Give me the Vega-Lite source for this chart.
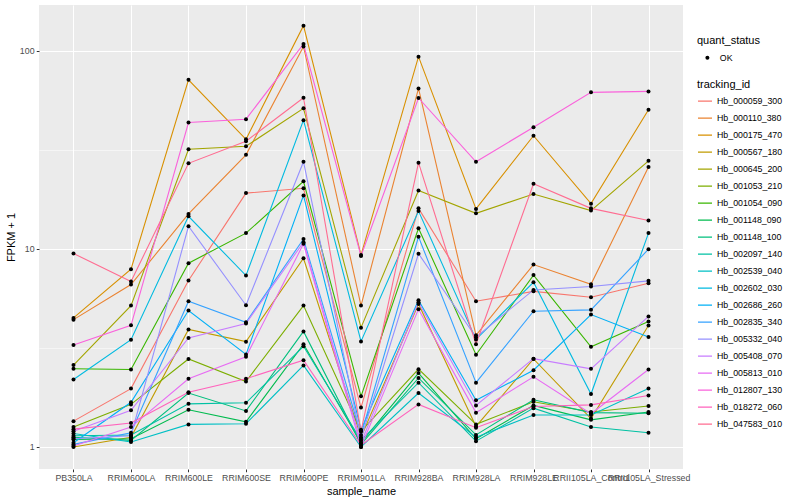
{
  "$schema": "https://vega.github.io/schema/vega-lite/v6.json",
  "width": 644,
  "height": 464,
  "autosize": {"type": "none"},
  "padding": {"left": 39, "top": 5, "right": 117, "bottom": 31},
  "background": "white",
  "config": {
    "font": "Liberation Sans",
    "view": {"fill": "#EBEBEB", "stroke": null},
    "axis": {
      "domain": false,
      "labelFont": "Liberation Sans",
      "labelFontSize": 8.8,
      "labelColor": "#4D4D4D",
      "labelPadding": 2.2,
      "tickColor": "#333333",
      "tickSize": 2.75,
      "tickWidth": 1,
      "titleFont": "Liberation Sans",
      "titleFontSize": 11,
      "titleFontWeight": "normal",
      "titleColor": "black",
      "gridColor": "white",
      "gridOpacity": 1
    },
    "legend": {
      "titleFont": "Liberation Sans",
      "titleFontSize": 11,
      "titleFontWeight": "normal",
      "titleColor": "black",
      "labelFont": "Liberation Sans",
      "labelFontSize": 8.8,
      "labelColor": "black",
      "padding": 0
    }
  },
  "data": {
    "values": [
      {"tracking_id":"Hb_000059_300","sample_name":"PB350LA","fpkm":1.35,"quant_status":"OK"},
      {"tracking_id":"Hb_000059_300","sample_name":"RRIM600LA","fpkm":1.97,"quant_status":"OK"},
      {"tracking_id":"Hb_000059_300","sample_name":"RRIM600LE","fpkm":6.92,"quant_status":"OK"},
      {"tracking_id":"Hb_000059_300","sample_name":"RRIM600SE","fpkm":19.1,"quant_status":"OK"},
      {"tracking_id":"Hb_000059_300","sample_name":"RRIM600PE","fpkm":20.2,"quant_status":"OK"},
      {"tracking_id":"Hb_000059_300","sample_name":"RRIM901LA","fpkm":1.58,"quant_status":"OK"},
      {"tracking_id":"Hb_000059_300","sample_name":"RRIM928BA","fpkm":16.0,"quant_status":"OK"},
      {"tracking_id":"Hb_000059_300","sample_name":"RRIM928LA","fpkm":5.44,"quant_status":"OK"},
      {"tracking_id":"Hb_000059_300","sample_name":"RRIM928LE","fpkm":6.1,"quant_status":"OK"},
      {"tracking_id":"Hb_000059_300","sample_name":"RRII105LA_Control","fpkm":5.7,"quant_status":"OK"},
      {"tracking_id":"Hb_000059_300","sample_name":"RRII105LA_Stressed","fpkm":6.7,"quant_status":"OK"},

      {"tracking_id":"Hb_000110_380","sample_name":"PB350LA","fpkm":4.39,"quant_status":"OK"},
      {"tracking_id":"Hb_000110_380","sample_name":"RRIM600LA","fpkm":6.6,"quant_status":"OK"},
      {"tracking_id":"Hb_000110_380","sample_name":"RRIM600LE","fpkm":15.0,"quant_status":"OK"},
      {"tracking_id":"Hb_000110_380","sample_name":"RRIM600SE","fpkm":29.8,"quant_status":"OK"},
      {"tracking_id":"Hb_000110_380","sample_name":"RRIM600PE","fpkm":105,"quant_status":"OK"},
      {"tracking_id":"Hb_000110_380","sample_name":"RRIM901LA","fpkm":5.17,"quant_status":"OK"},
      {"tracking_id":"Hb_000110_380","sample_name":"RRIM928BA","fpkm":64.5,"quant_status":"OK"},
      {"tracking_id":"Hb_000110_380","sample_name":"RRIM928LA","fpkm":3.66,"quant_status":"OK"},
      {"tracking_id":"Hb_000110_380","sample_name":"RRIM928LE","fpkm":8.33,"quant_status":"OK"},
      {"tracking_id":"Hb_000110_380","sample_name":"RRII105LA_Control","fpkm":6.62,"quant_status":"OK"},
      {"tracking_id":"Hb_000110_380","sample_name":"RRII105LA_Stressed","fpkm":25.9,"quant_status":"OK"},

      {"tracking_id":"Hb_000175_470","sample_name":"PB350LA","fpkm":4.48,"quant_status":"OK"},
      {"tracking_id":"Hb_000175_470","sample_name":"RRIM600LA","fpkm":7.89,"quant_status":"OK"},
      {"tracking_id":"Hb_000175_470","sample_name":"RRIM600LE","fpkm":71.3,"quant_status":"OK"},
      {"tracking_id":"Hb_000175_470","sample_name":"RRIM600SE","fpkm":35.7,"quant_status":"OK"},
      {"tracking_id":"Hb_000175_470","sample_name":"RRIM600PE","fpkm":133.7,"quant_status":"OK"},
      {"tracking_id":"Hb_000175_470","sample_name":"RRIM901LA","fpkm":9.3,"quant_status":"OK"},
      {"tracking_id":"Hb_000175_470","sample_name":"RRIM928BA","fpkm":93.3,"quant_status":"OK"},
      {"tracking_id":"Hb_000175_470","sample_name":"RRIM928LA","fpkm":15.9,"quant_status":"OK"},
      {"tracking_id":"Hb_000175_470","sample_name":"RRIM928LE","fpkm":37.2,"quant_status":"OK"},
      {"tracking_id":"Hb_000175_470","sample_name":"RRII105LA_Control","fpkm":16.9,"quant_status":"OK"},
      {"tracking_id":"Hb_000175_470","sample_name":"RRII105LA_Stressed","fpkm":50.3,"quant_status":"OK"},

      {"tracking_id":"Hb_000567_180","sample_name":"PB350LA","fpkm":1.0,"quant_status":"OK"},
      {"tracking_id":"Hb_000567_180","sample_name":"RRIM600LA","fpkm":1.12,"quant_status":"OK"},
      {"tracking_id":"Hb_000567_180","sample_name":"RRIM600LE","fpkm":3.92,"quant_status":"OK"},
      {"tracking_id":"Hb_000567_180","sample_name":"RRIM600SE","fpkm":3.4,"quant_status":"OK"},
      {"tracking_id":"Hb_000567_180","sample_name":"RRIM600PE","fpkm":8.96,"quant_status":"OK"},
      {"tracking_id":"Hb_000567_180","sample_name":"RRIM901LA","fpkm":1.12,"quant_status":"OK"},
      {"tracking_id":"Hb_000567_180","sample_name":"RRIM928BA","fpkm":5.27,"quant_status":"OK"},
      {"tracking_id":"Hb_000567_180","sample_name":"RRIM928LA","fpkm":1.27,"quant_status":"OK"},
      {"tracking_id":"Hb_000567_180","sample_name":"RRIM928LE","fpkm":2.78,"quant_status":"OK"},
      {"tracking_id":"Hb_000567_180","sample_name":"RRII105LA_Control","fpkm":1.39,"quant_status":"OK"},
      {"tracking_id":"Hb_000567_180","sample_name":"RRII105LA_Stressed","fpkm":4.1,"quant_status":"OK"},

      {"tracking_id":"Hb_000645_200","sample_name":"PB350LA","fpkm":2.59,"quant_status":"OK"},
      {"tracking_id":"Hb_000645_200","sample_name":"RRIM600LA","fpkm":5.17,"quant_status":"OK"},
      {"tracking_id":"Hb_000645_200","sample_name":"RRIM600LE","fpkm":31.8,"quant_status":"OK"},
      {"tracking_id":"Hb_000645_200","sample_name":"RRIM600SE","fpkm":32.9,"quant_status":"OK"},
      {"tracking_id":"Hb_000645_200","sample_name":"RRIM600PE","fpkm":51.2,"quant_status":"OK"},
      {"tracking_id":"Hb_000645_200","sample_name":"RRIM901LA","fpkm":4.0,"quant_status":"OK"},
      {"tracking_id":"Hb_000645_200","sample_name":"RRIM928BA","fpkm":19.7,"quant_status":"OK"},
      {"tracking_id":"Hb_000645_200","sample_name":"RRIM928LA","fpkm":15.1,"quant_status":"OK"},
      {"tracking_id":"Hb_000645_200","sample_name":"RRIM928LE","fpkm":18.9,"quant_status":"OK"},
      {"tracking_id":"Hb_000645_200","sample_name":"RRII105LA_Control","fpkm":15.6,"quant_status":"OK"},
      {"tracking_id":"Hb_000645_200","sample_name":"RRII105LA_Stressed","fpkm":27.8,"quant_status":"OK"},

      {"tracking_id":"Hb_001053_210","sample_name":"PB350LA","fpkm":1.26,"quant_status":"OK"},
      {"tracking_id":"Hb_001053_210","sample_name":"RRIM600LA","fpkm":1.64,"quant_status":"OK"},
      {"tracking_id":"Hb_001053_210","sample_name":"RRIM600LE","fpkm":2.78,"quant_status":"OK"},
      {"tracking_id":"Hb_001053_210","sample_name":"RRIM600SE","fpkm":2.14,"quant_status":"OK"},
      {"tracking_id":"Hb_001053_210","sample_name":"RRIM600PE","fpkm":5.17,"quant_status":"OK"},
      {"tracking_id":"Hb_001053_210","sample_name":"RRIM901LA","fpkm":1.2,"quant_status":"OK"},
      {"tracking_id":"Hb_001053_210","sample_name":"RRIM928BA","fpkm":2.47,"quant_status":"OK"},
      {"tracking_id":"Hb_001053_210","sample_name":"RRIM928LA","fpkm":1.3,"quant_status":"OK"},
      {"tracking_id":"Hb_001053_210","sample_name":"RRIM928LE","fpkm":1.69,"quant_status":"OK"},
      {"tracking_id":"Hb_001053_210","sample_name":"RRII105LA_Control","fpkm":1.5,"quant_status":"OK"},
      {"tracking_id":"Hb_001053_210","sample_name":"RRII105LA_Stressed","fpkm":1.61,"quant_status":"OK"},

      {"tracking_id":"Hb_001054_090","sample_name":"PB350LA","fpkm":2.48,"quant_status":"OK"},
      {"tracking_id":"Hb_001054_090","sample_name":"RRIM600LA","fpkm":2.46,"quant_status":"OK"},
      {"tracking_id":"Hb_001054_090","sample_name":"RRIM600LE","fpkm":8.46,"quant_status":"OK"},
      {"tracking_id":"Hb_001054_090","sample_name":"RRIM600SE","fpkm":12.0,"quant_status":"OK"},
      {"tracking_id":"Hb_001054_090","sample_name":"RRIM600PE","fpkm":21.9,"quant_status":"OK"},
      {"tracking_id":"Hb_001054_090","sample_name":"RRIM901LA","fpkm":1.8,"quant_status":"OK"},
      {"tracking_id":"Hb_001054_090","sample_name":"RRIM928BA","fpkm":12.7,"quant_status":"OK"},
      {"tracking_id":"Hb_001054_090","sample_name":"RRIM928LA","fpkm":2.92,"quant_status":"OK"},
      {"tracking_id":"Hb_001054_090","sample_name":"RRIM928LE","fpkm":7.37,"quant_status":"OK"},
      {"tracking_id":"Hb_001054_090","sample_name":"RRII105LA_Control","fpkm":3.2,"quant_status":"OK"},
      {"tracking_id":"Hb_001054_090","sample_name":"RRII105LA_Stressed","fpkm":4.3,"quant_status":"OK"},

      {"tracking_id":"Hb_001148_090","sample_name":"PB350LA","fpkm":1.09,"quant_status":"OK"},
      {"tracking_id":"Hb_001148_090","sample_name":"RRIM600LA","fpkm":1.1,"quant_status":"OK"},
      {"tracking_id":"Hb_001148_090","sample_name":"RRIM600LE","fpkm":1.54,"quant_status":"OK"},
      {"tracking_id":"Hb_001148_090","sample_name":"RRIM600SE","fpkm":1.34,"quant_status":"OK"},
      {"tracking_id":"Hb_001148_090","sample_name":"RRIM600PE","fpkm":3.3,"quant_status":"OK"},
      {"tracking_id":"Hb_001148_090","sample_name":"RRIM901LA","fpkm":1.05,"quant_status":"OK"},
      {"tracking_id":"Hb_001148_090","sample_name":"RRIM928BA","fpkm":2.36,"quant_status":"OK"},
      {"tracking_id":"Hb_001148_090","sample_name":"RRIM928LA","fpkm":1.1,"quant_status":"OK"},
      {"tracking_id":"Hb_001148_090","sample_name":"RRIM928LE","fpkm":1.62,"quant_status":"OK"},
      {"tracking_id":"Hb_001148_090","sample_name":"RRII105LA_Control","fpkm":1.37,"quant_status":"OK"},
      {"tracking_id":"Hb_001148_090","sample_name":"RRII105LA_Stressed","fpkm":1.5,"quant_status":"OK"},

      {"tracking_id":"Hb_001148_100","sample_name":"PB350LA","fpkm":1.12,"quant_status":"OK"},
      {"tracking_id":"Hb_001148_100","sample_name":"RRIM600LA","fpkm":1.08,"quant_status":"OK"},
      {"tracking_id":"Hb_001148_100","sample_name":"RRIM600LE","fpkm":1.87,"quant_status":"OK"},
      {"tracking_id":"Hb_001148_100","sample_name":"RRIM600SE","fpkm":1.52,"quant_status":"OK"},
      {"tracking_id":"Hb_001148_100","sample_name":"RRIM600PE","fpkm":3.83,"quant_status":"OK"},
      {"tracking_id":"Hb_001148_100","sample_name":"RRIM901LA","fpkm":1.03,"quant_status":"OK"},
      {"tracking_id":"Hb_001148_100","sample_name":"RRIM928BA","fpkm":2.23,"quant_status":"OK"},
      {"tracking_id":"Hb_001148_100","sample_name":"RRIM928LA","fpkm":1.15,"quant_status":"OK"},
      {"tracking_id":"Hb_001148_100","sample_name":"RRIM928LE","fpkm":1.73,"quant_status":"OK"},
      {"tracking_id":"Hb_001148_100","sample_name":"RRII105LA_Control","fpkm":1.49,"quant_status":"OK"},
      {"tracking_id":"Hb_001148_100","sample_name":"RRII105LA_Stressed","fpkm":1.48,"quant_status":"OK"},

      {"tracking_id":"Hb_002097_140","sample_name":"PB350LA","fpkm":1.14,"quant_status":"OK"},
      {"tracking_id":"Hb_002097_140","sample_name":"RRIM600LA","fpkm":1.15,"quant_status":"OK"},
      {"tracking_id":"Hb_002097_140","sample_name":"RRIM600LE","fpkm":1.65,"quant_status":"OK"},
      {"tracking_id":"Hb_002097_140","sample_name":"RRIM600SE","fpkm":1.67,"quant_status":"OK"},
      {"tracking_id":"Hb_002097_140","sample_name":"RRIM600PE","fpkm":3.22,"quant_status":"OK"},
      {"tracking_id":"Hb_002097_140","sample_name":"RRIM901LA","fpkm":1.08,"quant_status":"OK"},
      {"tracking_id":"Hb_002097_140","sample_name":"RRIM928BA","fpkm":2.11,"quant_status":"OK"},
      {"tracking_id":"Hb_002097_140","sample_name":"RRIM928LA","fpkm":1.07,"quant_status":"OK"},
      {"tracking_id":"Hb_002097_140","sample_name":"RRIM928LE","fpkm":1.57,"quant_status":"OK"},
      {"tracking_id":"Hb_002097_140","sample_name":"RRII105LA_Control","fpkm":1.26,"quant_status":"OK"},
      {"tracking_id":"Hb_002097_140","sample_name":"RRII105LA_Stressed","fpkm":1.18,"quant_status":"OK"},

      {"tracking_id":"Hb_002539_040","sample_name":"PB350LA","fpkm":1.17,"quant_status":"OK"},
      {"tracking_id":"Hb_002539_040","sample_name":"RRIM600LA","fpkm":1.06,"quant_status":"OK"},
      {"tracking_id":"Hb_002539_040","sample_name":"RRIM600LE","fpkm":1.3,"quant_status":"OK"},
      {"tracking_id":"Hb_002539_040","sample_name":"RRIM600SE","fpkm":1.31,"quant_status":"OK"},
      {"tracking_id":"Hb_002539_040","sample_name":"RRIM600PE","fpkm":2.58,"quant_status":"OK"},
      {"tracking_id":"Hb_002539_040","sample_name":"RRIM901LA","fpkm":1.0,"quant_status":"OK"},
      {"tracking_id":"Hb_002539_040","sample_name":"RRIM928BA","fpkm":1.87,"quant_status":"OK"},
      {"tracking_id":"Hb_002539_040","sample_name":"RRIM928LA","fpkm":1.12,"quant_status":"OK"},
      {"tracking_id":"Hb_002539_040","sample_name":"RRIM928LE","fpkm":1.45,"quant_status":"OK"},
      {"tracking_id":"Hb_002539_040","sample_name":"RRII105LA_Control","fpkm":1.45,"quant_status":"OK"},
      {"tracking_id":"Hb_002539_040","sample_name":"RRII105LA_Stressed","fpkm":1.97,"quant_status":"OK"},

      {"tracking_id":"Hb_002602_030","sample_name":"PB350LA","fpkm":2.19,"quant_status":"OK"},
      {"tracking_id":"Hb_002602_030","sample_name":"RRIM600LA","fpkm":3.48,"quant_status":"OK"},
      {"tracking_id":"Hb_002602_030","sample_name":"RRIM600LE","fpkm":14.6,"quant_status":"OK"},
      {"tracking_id":"Hb_002602_030","sample_name":"RRIM600SE","fpkm":7.33,"quant_status":"OK"},
      {"tracking_id":"Hb_002602_030","sample_name":"RRIM600PE","fpkm":44.6,"quant_status":"OK"},
      {"tracking_id":"Hb_002602_030","sample_name":"RRIM901LA","fpkm":3.41,"quant_status":"OK"},
      {"tracking_id":"Hb_002602_030","sample_name":"RRIM928BA","fpkm":15.5,"quant_status":"OK"},
      {"tracking_id":"Hb_002602_030","sample_name":"RRIM928LA","fpkm":3.49,"quant_status":"OK"},
      {"tracking_id":"Hb_002602_030","sample_name":"RRIM928LE","fpkm":6.78,"quant_status":"OK"},
      {"tracking_id":"Hb_002602_030","sample_name":"RRII105LA_Control","fpkm":1.85,"quant_status":"OK"},
      {"tracking_id":"Hb_002602_030","sample_name":"RRII105LA_Stressed","fpkm":12.0,"quant_status":"OK"},

      {"tracking_id":"Hb_002686_260","sample_name":"PB350LA","fpkm":1.05,"quant_status":"OK"},
      {"tracking_id":"Hb_002686_260","sample_name":"RRIM600LA","fpkm":1.68,"quant_status":"OK"},
      {"tracking_id":"Hb_002686_260","sample_name":"RRIM600LE","fpkm":4.88,"quant_status":"OK"},
      {"tracking_id":"Hb_002686_260","sample_name":"RRIM600SE","fpkm":2.93,"quant_status":"OK"},
      {"tracking_id":"Hb_002686_260","sample_name":"RRIM600PE","fpkm":18.6,"quant_status":"OK"},
      {"tracking_id":"Hb_002686_260","sample_name":"RRIM901LA","fpkm":1.22,"quant_status":"OK"},
      {"tracking_id":"Hb_002686_260","sample_name":"RRIM928BA","fpkm":5.5,"quant_status":"OK"},
      {"tracking_id":"Hb_002686_260","sample_name":"RRIM928LA","fpkm":1.72,"quant_status":"OK"},
      {"tracking_id":"Hb_002686_260","sample_name":"RRIM928LE","fpkm":2.44,"quant_status":"OK"},
      {"tracking_id":"Hb_002686_260","sample_name":"RRII105LA_Control","fpkm":4.66,"quant_status":"OK"},
      {"tracking_id":"Hb_002686_260","sample_name":"RRII105LA_Stressed","fpkm":3.59,"quant_status":"OK"},

      {"tracking_id":"Hb_002835_340","sample_name":"PB350LA","fpkm":1.03,"quant_status":"OK"},
      {"tracking_id":"Hb_002835_340","sample_name":"RRIM600LA","fpkm":1.18,"quant_status":"OK"},
      {"tracking_id":"Hb_002835_340","sample_name":"RRIM600LE","fpkm":5.44,"quant_status":"OK"},
      {"tracking_id":"Hb_002835_340","sample_name":"RRIM600SE","fpkm":4.26,"quant_status":"OK"},
      {"tracking_id":"Hb_002835_340","sample_name":"RRIM600PE","fpkm":11.2,"quant_status":"OK"},
      {"tracking_id":"Hb_002835_340","sample_name":"RRIM901LA","fpkm":1.15,"quant_status":"OK"},
      {"tracking_id":"Hb_002835_340","sample_name":"RRIM928BA","fpkm":11.5,"quant_status":"OK"},
      {"tracking_id":"Hb_002835_340","sample_name":"RRIM928LA","fpkm":2.11,"quant_status":"OK"},
      {"tracking_id":"Hb_002835_340","sample_name":"RRIM928LE","fpkm":4.84,"quant_status":"OK"},
      {"tracking_id":"Hb_002835_340","sample_name":"RRII105LA_Control","fpkm":4.92,"quant_status":"OK"},
      {"tracking_id":"Hb_002835_340","sample_name":"RRII105LA_Stressed","fpkm":9.95,"quant_status":"OK"},

      {"tracking_id":"Hb_005332_040","sample_name":"PB350LA","fpkm":1.1,"quant_status":"OK"},
      {"tracking_id":"Hb_005332_040","sample_name":"RRIM600LA","fpkm":1.14,"quant_status":"OK"},
      {"tracking_id":"Hb_005332_040","sample_name":"RRIM600LE","fpkm":13.0,"quant_status":"OK"},
      {"tracking_id":"Hb_005332_040","sample_name":"RRIM600SE","fpkm":5.19,"quant_status":"OK"},
      {"tracking_id":"Hb_005332_040","sample_name":"RRIM600PE","fpkm":27.5,"quant_status":"OK"},
      {"tracking_id":"Hb_005332_040","sample_name":"RRIM901LA","fpkm":1.1,"quant_status":"OK"},
      {"tracking_id":"Hb_005332_040","sample_name":"RRIM928BA","fpkm":9.45,"quant_status":"OK"},
      {"tracking_id":"Hb_005332_040","sample_name":"RRIM928LA","fpkm":3.58,"quant_status":"OK"},
      {"tracking_id":"Hb_005332_040","sample_name":"RRIM928LE","fpkm":6.2,"quant_status":"OK"},
      {"tracking_id":"Hb_005332_040","sample_name":"RRII105LA_Control","fpkm":6.45,"quant_status":"OK"},
      {"tracking_id":"Hb_005332_040","sample_name":"RRII105LA_Stressed","fpkm":6.89,"quant_status":"OK"},

      {"tracking_id":"Hb_005408_070","sample_name":"PB350LA","fpkm":1.2,"quant_status":"OK"},
      {"tracking_id":"Hb_005408_070","sample_name":"RRIM600LA","fpkm":1.53,"quant_status":"OK"},
      {"tracking_id":"Hb_005408_070","sample_name":"RRIM600LE","fpkm":3.55,"quant_status":"OK"},
      {"tracking_id":"Hb_005408_070","sample_name":"RRIM600SE","fpkm":4.2,"quant_status":"OK"},
      {"tracking_id":"Hb_005408_070","sample_name":"RRIM600PE","fpkm":10.8,"quant_status":"OK"},
      {"tracking_id":"Hb_005408_070","sample_name":"RRIM901LA","fpkm":1.05,"quant_status":"OK"},
      {"tracking_id":"Hb_005408_070","sample_name":"RRIM928BA","fpkm":5.38,"quant_status":"OK"},
      {"tracking_id":"Hb_005408_070","sample_name":"RRIM928LA","fpkm":1.62,"quant_status":"OK"},
      {"tracking_id":"Hb_005408_070","sample_name":"RRIM928LE","fpkm":2.79,"quant_status":"OK"},
      {"tracking_id":"Hb_005408_070","sample_name":"RRII105LA_Control","fpkm":2.48,"quant_status":"OK"},
      {"tracking_id":"Hb_005408_070","sample_name":"RRII105LA_Stressed","fpkm":4.56,"quant_status":"OK"},

      {"tracking_id":"Hb_005813_010","sample_name":"PB350LA","fpkm":1.01,"quant_status":"OK"},
      {"tracking_id":"Hb_005813_010","sample_name":"RRIM600LA","fpkm":1.26,"quant_status":"OK"},
      {"tracking_id":"Hb_005813_010","sample_name":"RRIM600LE","fpkm":2.21,"quant_status":"OK"},
      {"tracking_id":"Hb_005813_010","sample_name":"RRIM600SE","fpkm":2.85,"quant_status":"OK"},
      {"tracking_id":"Hb_005813_010","sample_name":"RRIM600PE","fpkm":10.6,"quant_status":"OK"},
      {"tracking_id":"Hb_005813_010","sample_name":"RRIM901LA","fpkm":1.0,"quant_status":"OK"},
      {"tracking_id":"Hb_005813_010","sample_name":"RRIM928BA","fpkm":4.96,"quant_status":"OK"},
      {"tracking_id":"Hb_005813_010","sample_name":"RRIM928LA","fpkm":1.49,"quant_status":"OK"},
      {"tracking_id":"Hb_005813_010","sample_name":"RRIM928LE","fpkm":2.26,"quant_status":"OK"},
      {"tracking_id":"Hb_005813_010","sample_name":"RRII105LA_Control","fpkm":1.47,"quant_status":"OK"},
      {"tracking_id":"Hb_005813_010","sample_name":"RRII105LA_Stressed","fpkm":2.46,"quant_status":"OK"},

      {"tracking_id":"Hb_012807_130","sample_name":"PB350LA","fpkm":3.27,"quant_status":"OK"},
      {"tracking_id":"Hb_012807_130","sample_name":"RRIM600LA","fpkm":4.11,"quant_status":"OK"},
      {"tracking_id":"Hb_012807_130","sample_name":"RRIM600LE","fpkm":43.4,"quant_status":"OK"},
      {"tracking_id":"Hb_012807_130","sample_name":"RRIM600SE","fpkm":45.1,"quant_status":"OK"},
      {"tracking_id":"Hb_012807_130","sample_name":"RRIM600PE","fpkm":108,"quant_status":"OK"},
      {"tracking_id":"Hb_012807_130","sample_name":"RRIM901LA","fpkm":9.2,"quant_status":"OK"},
      {"tracking_id":"Hb_012807_130","sample_name":"RRIM928BA","fpkm":57.7,"quant_status":"OK"},
      {"tracking_id":"Hb_012807_130","sample_name":"RRIM928LA","fpkm":27.5,"quant_status":"OK"},
      {"tracking_id":"Hb_012807_130","sample_name":"RRIM928LE","fpkm":41.1,"quant_status":"OK"},
      {"tracking_id":"Hb_012807_130","sample_name":"RRII105LA_Control","fpkm":61.6,"quant_status":"OK"},
      {"tracking_id":"Hb_012807_130","sample_name":"RRII105LA_Stressed","fpkm":62.3,"quant_status":"OK"},

      {"tracking_id":"Hb_018272_060","sample_name":"PB350LA","fpkm":1.23,"quant_status":"OK"},
      {"tracking_id":"Hb_018272_060","sample_name":"RRIM600LA","fpkm":1.32,"quant_status":"OK"},
      {"tracking_id":"Hb_018272_060","sample_name":"RRIM600LE","fpkm":1.89,"quant_status":"OK"},
      {"tracking_id":"Hb_018272_060","sample_name":"RRIM600SE","fpkm":2.21,"quant_status":"OK"},
      {"tracking_id":"Hb_018272_060","sample_name":"RRIM600PE","fpkm":2.74,"quant_status":"OK"},
      {"tracking_id":"Hb_018272_060","sample_name":"RRIM901LA","fpkm":1.02,"quant_status":"OK"},
      {"tracking_id":"Hb_018272_060","sample_name":"RRIM928BA","fpkm":1.64,"quant_status":"OK"},
      {"tracking_id":"Hb_018272_060","sample_name":"RRIM928LA","fpkm":1.25,"quant_status":"OK"},
      {"tracking_id":"Hb_018272_060","sample_name":"RRIM928LE","fpkm":1.6,"quant_status":"OK"},
      {"tracking_id":"Hb_018272_060","sample_name":"RRII105LA_Control","fpkm":1.63,"quant_status":"OK"},
      {"tracking_id":"Hb_018272_060","sample_name":"RRII105LA_Stressed","fpkm":1.82,"quant_status":"OK"},

      {"tracking_id":"Hb_047583_010","sample_name":"PB350LA","fpkm":9.47,"quant_status":"OK"},
      {"tracking_id":"Hb_047583_010","sample_name":"RRIM600LA","fpkm":6.84,"quant_status":"OK"},
      {"tracking_id":"Hb_047583_010","sample_name":"RRIM600LE","fpkm":27.0,"quant_status":"OK"},
      {"tracking_id":"Hb_047583_010","sample_name":"RRIM600SE","fpkm":34.9,"quant_status":"OK"},
      {"tracking_id":"Hb_047583_010","sample_name":"RRIM600PE","fpkm":57.9,"quant_status":"OK"},
      {"tracking_id":"Hb_047583_010","sample_name":"RRIM901LA","fpkm":1.2,"quant_status":"OK"},
      {"tracking_id":"Hb_047583_010","sample_name":"RRIM928BA","fpkm":27.2,"quant_status":"OK"},
      {"tracking_id":"Hb_047583_010","sample_name":"RRIM928LA","fpkm":3.3,"quant_status":"OK"},
      {"tracking_id":"Hb_047583_010","sample_name":"RRIM928LE","fpkm":21.3,"quant_status":"OK"},
      {"tracking_id":"Hb_047583_010","sample_name":"RRII105LA_Control","fpkm":16.0,"quant_status":"OK"},
      {"tracking_id":"Hb_047583_010","sample_name":"RRII105LA_Stressed","fpkm":13.9,"quant_status":"OK"}
    ]
  },
  "resolve": {"axis": {"y": "independent"}},
  "layer": [
    {
      "mark": {"type": "line", "strokeWidth": 1.1, "clip": true},
      "encoding": {
        "x": {
          "field": "sample_name", "type": "ordinal",
          "sort": ["PB350LA","RRIM600LA","RRIM600LE","RRIM600SE","RRIM600PE","RRIM901LA","RRIM928BA","RRIM928LA","RRIM928LE","RRII105LA_Control","RRII105LA_Stressed"],
          "scale": {"type": "point", "padding": 0.6},
          "axis": {"title": "sample_name", "grid": true, "gridWidth": 1.07, "labelAngle": 0, "labelOverlap": false, "labelBound": false, "titlePadding": 3}
        },
        "y": {
          "field": "fpkm", "type": "quantitative",
          "scale": {"type": "log", "domain": [0.774, 170], "nice": false, "zero": false},
          "axis": {"title": "FPKM + 1", "values": [1, 10, 100], "format": "d", "grid": true, "gridWidth": 1.07, "orient": "left", "titlePadding": 3}
        },
        "color": {
          "field": "tracking_id", "type": "nominal",
          "scale": {"range": ["#F8766D","#EA8331","#D89000","#C09B00","#A3A500","#7CAE00","#39B600","#00BB4E","#00BF7D","#00C1A3","#00BFC4","#00BAE0","#00B0F6","#35A2FF","#9590FF","#C77CFF","#E76BF3","#FA62DB","#FF62BC","#FF6C91"]},
          "legend": {
            "orient": "none", "legendX": 658, "legendY": 74,
            "title": "tracking_id", "titlePadding": 3,
            "symbolType": "stroke", "symbolStrokeWidth": 1.07, "symbolSize": 196,
            "clipHeight": 16.3, "rowPadding": 0, "labelOffset": 4, "labelLimit": 200
          }
        }
      }
    },
    {
      "mark": {"type": "point", "filled": true, "size": 16, "color": "black", "opacity": 1},
      "encoding": {
        "x": {
          "field": "sample_name", "type": "ordinal",
          "sort": ["PB350LA","RRIM600LA","RRIM600LE","RRIM600SE","RRIM600PE","RRIM901LA","RRIM928BA","RRIM928LA","RRIM928LE","RRII105LA_Control","RRII105LA_Stressed"]
        },
        "y": {
          "field": "fpkm", "type": "quantitative",
          "axis": {"orient": "right", "values": [3.1623, 31.623], "grid": true, "gridWidth": 0.53, "labels": false, "ticks": false, "domain": false, "title": null}
        },
        "shape": {
          "field": "quant_status", "type": "nominal",
          "scale": {"range": ["circle"]},
          "legend": {
            "orient": "none", "legendX": 658, "legendY": 30,
            "title": "quant_status", "titlePadding": 3,
            "symbolFillColor": "black", "symbolStrokeColor": "black", "symbolSize": 16,
            "clipHeight": 17.28, "labelOffset": 8, "symbolOffset": 6
          }
        }
      }
    }
  ]
}
